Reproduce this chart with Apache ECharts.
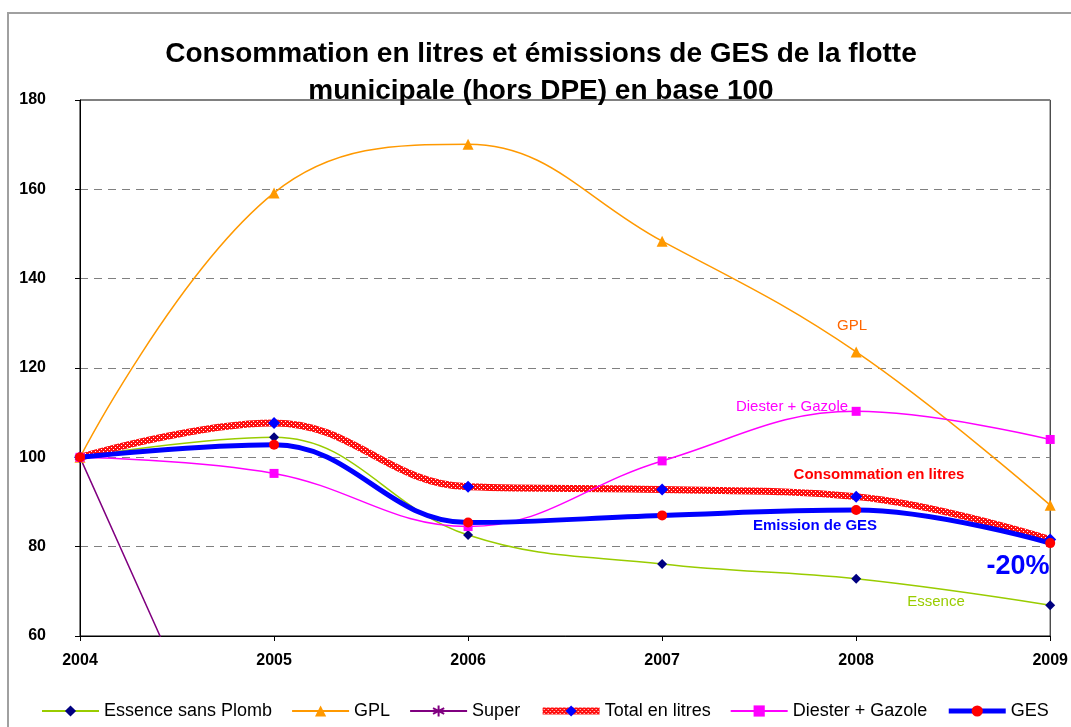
<!DOCTYPE html>
<html>
<head>
<meta charset="utf-8">
<script src="https://cdn.jsdelivr.net/npm/echarts@6/dist/echarts.min.js"></script>
<style>
  html, body { margin: 0; padding: 0; background: #fff; }
  #main { width: 1071px; height: 727px; }
</style>
</head>
<body>
<div id="main"></div>
<script>
// categories and values
const years = ['2004', '2005', '2006', '2007', '2008', '2009'];
const essence = [100, 104.5, 82.6, 76.1, 72.8, 66.9];
const gpl = [100, 159.2, 170.1, 148.4, 123.6, 89.3];
const superCarb = [100, 3, 0, 0, 0, 0];
const total = [100, 107.7, 93.4, 92.8, 91.2, 81.6];
const diester = [100, 96.4, 84.5, 99.2, 110.3, 104.0];
const ges = [100, 102.8, 85.4, 87.0, 88.2, 80.8];
const yTicks = [60, 80, 100, 120, 140, 160, 180];

const FONT = 'Liberation Sans, Arial, sans-serif';

// red speckled fill like the excel "total" line
function redPattern() {
  const c = document.createElement('canvas');
  c.width = 4; c.height = 4;
  const ctx = c.getContext('2d');
  ctx.fillStyle = '#ff1010';
  ctx.fillRect(0, 0, 4, 4);
  ctx.fillStyle = '#ffffff';
  ctx.fillRect(1, 1, 1, 1);
  ctx.fillRect(3, 3, 1, 1);
  return { image: c, repeat: 'repeat' };
}

const asterisk = 'path://M0,-10L0,10M-8.7,-5L8.7,5M-8.7,5L8.7,-5';

let myChart = echarts.init(document.getElementById('main'));

function note(text, x, y, color, size, bold) {
  return {
    type: 'text', x: x, y: y, z: 100,
    style: {
      text: text, fill: color, font: (bold ? 'bold ' : '') + size + 'px ' + FONT,
      textAlign: 'center', textVerticalAlign: 'middle'
    }
  };
}

let options = {
  animation: false,
  textStyle: { fontFamily: FONT },
  title: {
    text: 'Consommation en litres et émissions de GES de la flotte\nmunicipale (hors DPE) en base 100',
    left: 536,
    textAlign: 'center',
    top: 31,
    textStyle: { fontSize: 28, fontWeight: 'bold', color: '#000', lineHeight: 37, fontFamily: FONT }
  },
  grid: {
    left: 80, right: 19, top: 100, bottom: 91,
    show: true, borderColor: '#000', borderWidth: 1
  },
  legend: {
    left: 36, top: 697,
    itemWidth: 57, itemHeight: 14, itemGap: 19,
    textStyle: { fontSize: 18, color: '#000', fontFamily: FONT },
    data: [
      'Essence sans Plomb', 'GPL', 'Super',
      { name: 'Total en litres', lineStyle: { width: 7 } },
      'Diester + Gazole',
      { name: 'GES', lineStyle: { width: 5 } }
    ]
  },
  xAxis: {
    type: 'category',
    data: years,
    boundaryGap: false,
    axisLine: { lineStyle: { color: '#000' } },
    axisTick: { show: true, length: 5, lineStyle: { color: '#000' } },
    axisLabel: { fontSize: 16, fontWeight: 'bold', color: '#000', margin: 17 },
    splitLine: { show: false }
  },
  yAxis: {
    type: 'value',
    min: yTicks[0],
    max: yTicks[yTicks.length - 1],
    interval: yTicks[1] - yTicks[0],
    axisLine: { show: true, lineStyle: { color: '#000' } },
    axisTick: { show: true, length: 5, lineStyle: { color: '#000' } },
    axisLabel: { fontSize: 16, fontWeight: 'bold', color: '#000', margin: 34 },
    splitLine: { show: true, lineStyle: { color: '#808080', type: [8, 6], width: 1 } }
  },
  series: [
    {
      name: 'Essence sans Plomb', type: 'line', data: essence, smooth: 0.4,
      symbol: 'diamond', symbolSize: 10,
      lineStyle: { color: '#99cc00', width: 1.5 },
      itemStyle: { color: '#000080' }
    },
    {
      name: 'GPL', type: 'line', data: gpl, smooth: 0.4,
      symbol: 'triangle', symbolSize: 11,
      lineStyle: { color: '#ff9900', width: 1.5 },
      itemStyle: { color: '#ff9900' }
    },
    {
      name: 'Super', type: 'line', data: superCarb, smooth: false,
      symbol: asterisk, symbolSize: 10,
      lineStyle: { color: '#800080', width: 1.5 },
      itemStyle: { color: 'transparent', borderColor: '#800080', borderWidth: 1.5 }
    },
    {
      name: 'Total en litres', type: 'line', data: total, smooth: 0.4,
      symbol: 'diamond', symbolSize: 12,
      lineStyle: { color: redPattern(), width: 7 },
      itemStyle: { color: '#0000ff' }
    },
    {
      name: 'Diester + Gazole', type: 'line', data: diester, smooth: 0.4,
      symbol: 'rect', symbolSize: 9,
      lineStyle: { color: '#ff00ff', width: 1.5 },
      itemStyle: { color: '#ff00ff' }
    },
    {
      name: 'GES', type: 'line', data: ges, smooth: 0.4,
      symbol: 'circle', symbolSize: 10,
      lineStyle: { color: '#0000ff', width: 5 },
      itemStyle: { color: '#ff0000' }
    }
  ],
  graphic: [
    {
      type: 'rect', z: -10,
      shape: { x: 8, y: 13, width: 1200, height: 900 },
      style: { fill: 'none', stroke: '#a0a0a0', lineWidth: 2 }
    },
    note('GPL', 852, 326, '#ff6600', 15, false),
    note('Diester + Gazole', 792, 407, '#ff00ff', 15, false),
    note('Consommation en litres', 879, 475, '#ff0000', 15, true),
    note('Emission de GES', 815, 526, '#0000ff', 15, true),
    note('-20%', 1018, 567, '#0000ff', 27, true),
    note('Essence', 936, 602, '#99cc00', 15, false)
  ]
};

myChart.setOption(options, true);
</script>
</body>
</html>
